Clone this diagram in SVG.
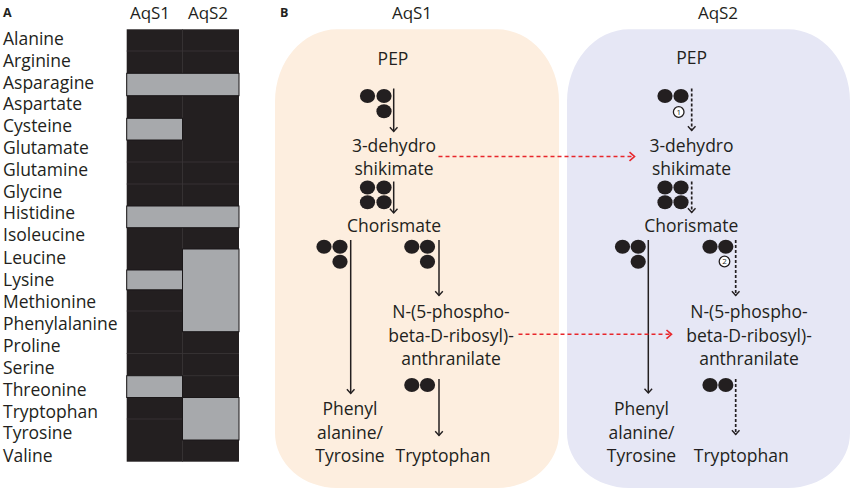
<svg xmlns="http://www.w3.org/2000/svg" width="856" height="493" viewBox="0 0 856 493">
<defs>
<style>
text{font-family:"Open Sans","Liberation Sans",sans-serif;fill:#231F20;}
.lbl{font-size:17.5px;}
.t{font-size:17.5px;text-anchor:middle;}
.hd{font-size:17px;text-anchor:middle;}
.bold{font-size:12.5px;font-weight:bold;}
.dark{fill:#231F20;}
.grey{fill:#A7A9AC;stroke:#1a1718;stroke-width:1;}
.grid{stroke:#3a3637;stroke-width:0.8;fill:none;}
.dot{fill:#231F20;}
.solid{stroke:#231F20;stroke-width:1.5;fill:none;marker-end:url(#ah);}
.dotted{stroke:#231F20;stroke-width:1.7;fill:none;stroke-dasharray:3 2;marker-end:url(#ah);}
.red{stroke:#E8262B;stroke-width:1.6;fill:none;stroke-dasharray:4 3;marker-end:url(#rah);}
.num{fill:#fff;stroke:#231F20;stroke-width:1.3;}
.n{font-size:8px;text-anchor:middle;}
</style>
<marker id="ah" markerUnits="userSpaceOnUse" viewBox="-6 -6 8 12" refX="0" refY="0" markerWidth="8" markerHeight="12" orient="auto" overflow="visible">
<path d="M-4.2,-3.8 L0,0 L-4.2,3.8" fill="none" stroke="#231F20" stroke-width="1.4"/>
</marker>
<marker id="rah" markerUnits="userSpaceOnUse" viewBox="-7 -6 8 12" refX="0" refY="0" markerWidth="8" markerHeight="12" orient="auto" overflow="visible">
<path d="M-5,-4.3 L0,0 L-5,4.3" fill="none" stroke="#E8262B" stroke-width="1.6"/>
</marker>
</defs>

<!-- Panel A -->
<g id="panelA">
<text class="bold" x="3" y="17">A</text>
<text class="hd" x="150" y="18.5">AqS1</text>
<text class="hd" x="208" y="18.5">AqS2</text>
<g id="heatmap">
<rect class="dark" x="126.7" y="29.3" width="112.3" height="432.4"/>
<path class="grid" d="M182.5,29.3V461.7 M126.7,51H239 M126.7,162H239 M126.7,184H239 M126.7,311H182.5 M182.5,353.5H239 M126.7,353.5H182.5 M126.7,419H182.5 M182.5,375.7H239"/>
<rect class="grey" x="126.7" y="73.3" width="112.3" height="22.4"/>
<rect class="grey" x="126.7" y="118.3" width="55.8" height="21.7"/>
<rect class="grey" x="126.7" y="206" width="112.3" height="21.7"/>
<rect class="grey" x="182.5" y="249" width="56.5" height="82.7"/>
<rect class="grey" x="126.7" y="270" width="55.8" height="19.8"/>
<rect class="grey" x="126.7" y="375.7" width="55.8" height="21.8"/>
<rect class="grey" x="182.5" y="397.5" width="56.5" height="42.5"/>
</g>
<g id="labels">
<text class="lbl" x="3" y="45">Alanine</text>
<text class="lbl" x="3" y="66.8">Arginine</text>
<text class="lbl" x="3" y="88.6">Asparagine</text>
<text class="lbl" x="3" y="110.4">Aspartate</text>
<text class="lbl" x="3" y="132.2">Cysteine</text>
<text class="lbl" x="3" y="154">Glutamate</text>
<text class="lbl" x="3" y="175.8">Glutamine</text>
<text class="lbl" x="3" y="197.6">Glycine</text>
<text class="lbl" x="3" y="219.4">Histidine</text>
<text class="lbl" x="3" y="241.2">Isoleucine</text>
<text class="lbl" x="3" y="263.6">Leucine</text>
<text class="lbl" x="3" y="285.6">Lysine</text>
<text class="lbl" x="3" y="308">Methionine</text>
<text class="lbl" x="3" y="330">Phenylalanine</text>
<text class="lbl" x="3" y="351.8">Proline</text>
<text class="lbl" x="3" y="373.5">Serine</text>
<text class="lbl" x="3" y="395.6">Threonine</text>
<text class="lbl" x="3" y="417.5">Tryptophan</text>
<text class="lbl" x="3" y="439.4">Tyrosine</text>
<text class="lbl" x="3" y="461.5">Valine</text>
</g>
</g>

<!-- Panel B -->
<text class="bold" x="280" y="17.3">B</text>
<text class="hd" x="412" y="18.5">AqS1</text>
<text class="hd" x="718" y="18.5">AqS2</text>

<g id="boxAqS1">
<path d="M337,29.3 H497 A62,72 0 0 1 559,101.3 V433 A62,55 0 0 1 497,488 H337 A62,55 0 0 1 275,433 V101.3 A62,72 0 0 1 337,29.3 Z" fill="#FDEEDF"/>
</g>
<g id="boxAqS2">
<path d="M629,29.3 H788 A62,72 0 0 1 850,101.3 V433 A62,55 0 0 1 788,488 H629 A62,55 0 0 1 567,433 V101.3 A62,72 0 0 1 629,29.3 Z" fill="#E6E7F5"/>
</g>

<!-- AqS1 nodes -->
<g id="s1-pep"><text class="t" x="393" y="64.5">PEP</text></g>
<g id="s1-dhs"><text class="t" x="394" y="151.5">3-dehydro</text><text class="t" x="394" y="175">shikimate</text></g>
<g id="s1-cho"><text class="t" x="394" y="232">Chorismate</text></g>
<g id="s1-prpa"><text class="t" x="451" y="317.8">N-(5-phospho-</text><text class="t" x="451" y="341.5">beta-D-ribosyl)-</text><text class="t" x="451" y="365">anthranilate</text></g>
<g id="s1-phe"><text class="t" x="350" y="415">Phenyl</text><text class="t" x="350" y="438.5">alanine/</text><text class="t" x="350" y="461.7">Tyrosine</text></g>
<g id="s1-trp"><text class="t" x="443" y="461.7">Tryptophan</text></g>
<g id="s1-dots">
<ellipse class="dot" cx="367.5" cy="96" rx="7.6" ry="7"/><ellipse class="dot" cx="384" cy="96" rx="7.6" ry="7"/><ellipse class="dot" cx="384" cy="111.3" rx="7.6" ry="7"/>
<ellipse class="dot" cx="367.5" cy="187.5" rx="7.6" ry="7"/><ellipse class="dot" cx="384" cy="187.5" rx="7.6" ry="7"/><ellipse class="dot" cx="367.5" cy="202.3" rx="7.6" ry="7"/><ellipse class="dot" cx="384" cy="202.3" rx="7.6" ry="7"/>
<ellipse class="dot" cx="324" cy="246.7" rx="7.6" ry="7"/><ellipse class="dot" cx="340" cy="246.7" rx="7.6" ry="7"/><ellipse class="dot" cx="340" cy="261.7" rx="7.6" ry="7"/>
<ellipse class="dot" cx="411.8" cy="246.7" rx="7.6" ry="7"/><ellipse class="dot" cx="427.5" cy="246.7" rx="7.6" ry="7"/><ellipse class="dot" cx="427.5" cy="261.7" rx="7.6" ry="7"/>
<ellipse class="dot" cx="411.8" cy="385" rx="7.6" ry="7"/><ellipse class="dot" cx="427.5" cy="385" rx="7.6" ry="7"/>
</g>

<!-- AqS2 nodes -->
<g id="s2-pep"><text class="t" x="691.7" y="64">PEP</text></g>
<g id="s2-dhs"><text class="t" x="691.5" y="151.5">3-dehydro</text><text class="t" x="691.5" y="175">shikimate</text></g>
<g id="s2-cho"><text class="t" x="691.3" y="232">Chorismate</text></g>
<g id="s2-prpa"><text class="t" x="749" y="317.8">N-(5-phospho-</text><text class="t" x="749" y="341.5">beta-D-ribosyl)-</text><text class="t" x="749" y="365">anthranilate</text></g>
<g id="s2-phe"><text class="t" x="641.5" y="415">Phenyl</text><text class="t" x="641.5" y="438.5">alanine/</text><text class="t" x="641.5" y="461.7">Tyrosine</text></g>
<g id="s2-trp"><text class="t" x="741.3" y="461.7">Tryptophan</text></g>
<g id="s2-dots">
<ellipse class="dot" cx="665" cy="96" rx="7.6" ry="7"/><ellipse class="dot" cx="681" cy="96" rx="7.6" ry="7"/>
<ellipse class="dot" cx="665" cy="187.5" rx="7.6" ry="7"/><ellipse class="dot" cx="681" cy="187.5" rx="7.6" ry="7"/><ellipse class="dot" cx="665" cy="202.3" rx="7.6" ry="7"/><ellipse class="dot" cx="681" cy="202.3" rx="7.6" ry="7"/>
<ellipse class="dot" cx="622.5" cy="246.7" rx="7.6" ry="7"/><ellipse class="dot" cx="638.2" cy="246.7" rx="7.6" ry="7"/><ellipse class="dot" cx="638.2" cy="261.7" rx="7.6" ry="7"/>
<ellipse class="dot" cx="710" cy="246.7" rx="7.6" ry="7"/><ellipse class="dot" cx="725.8" cy="246.7" rx="7.6" ry="7"/>
<ellipse class="dot" cx="710" cy="385" rx="7.6" ry="7"/><ellipse class="dot" cx="725.8" cy="385" rx="7.6" ry="7"/>
</g>
<g id="s2-mark1"><circle class="num" cx="678.7" cy="112" r="5.3"/><text class="n" x="678.7" y="114.8">1</text></g>
<g id="s2-mark2"><circle class="num" cx="724.5" cy="261.5" r="5.3"/><text class="n" x="724.5" y="264.3">2</text></g>

<!-- connectors -->
<g id="connectors">
<path class="solid" d="M393.7,88.5 V131.5"/>
<path class="solid" d="M393.7,181.5 V213"/>
<path class="solid" d="M350.7,240 V393.5"/>
<path class="solid" d="M439,240 V295.5"/>
<path class="solid" d="M439,379 V435.5"/>
<path class="dotted" d="M691.7,88.5 V130.5"/>
<path class="dotted" d="M691.7,181.5 V212.5"/>
<path class="solid" d="M648.3,240 V393"/>
<path class="dotted" d="M735.7,240 V295.5"/>
<path class="dotted" d="M735.7,379 V434.5"/>
<path class="red" d="M438.5,156.5 H634.5"/>
<path class="red" d="M518.5,334.3 H671.5"/>
</g>
</svg>
